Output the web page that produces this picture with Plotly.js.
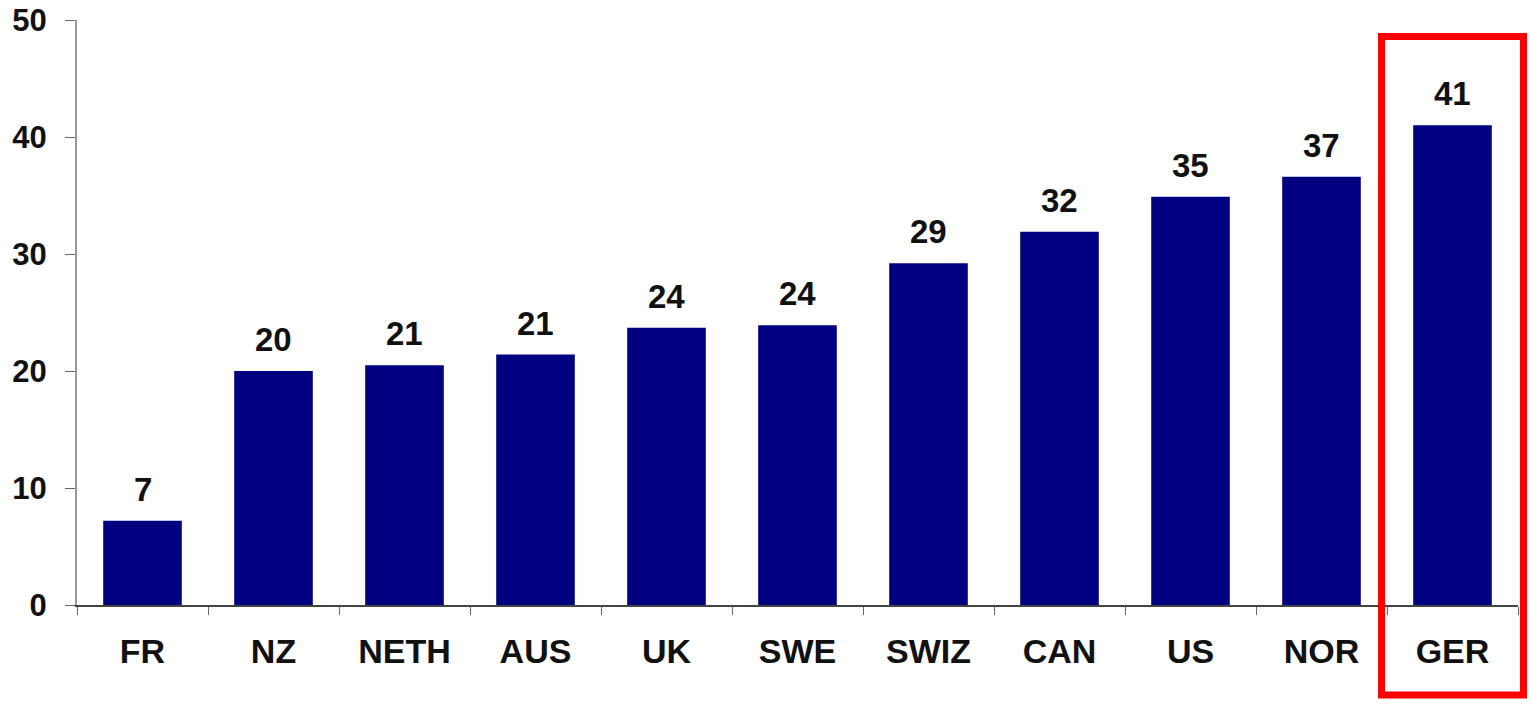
<!DOCTYPE html>
<html>
<head>
<meta charset="utf-8">
<script src="https://cdn.plot.ly/plotly-3.0.1.min.js"></script>
<style>html,body{margin:0;padding:0;background:#fff;}#chart{width:1531px;height:705px;}</style>
</head>
<body>
<div id="chart"></div>
<script>
var countries = ["FR", "NZ", "NETH", "AUS", "UK", "SWE", "SWIZ", "CAN", "US", "NOR", "GER"];
var values = [7.2, 20.0, 20.5, 21.4, 23.7, 23.9, 29.2, 31.9, 34.9, 36.6, 41.0];
var valueLabels = ["7", "20", "21", "21", "24", "24", "29", "32", "35", "37", "41"];
var yTicks = [0, 10, 20, 30, 40, 50];

var fontFamily = "Liberation Sans, Arial, sans-serif";

var trace = {
  type: "bar",
  x: countries,
  y: values,
  marker: {color: "#000080", line: {width: 0}},
  hoverinfo: "x+y"
};

var labelAnnotations = countries.map(function (c, i) {
  return {
    x: c,
    y: values[i],
    xref: "x",
    yref: "y",
    text: "<b>" + valueLabels[i] + "</b>",
    showarrow: false,
    yanchor: "bottom",
    xanchor: "center",
    yshift: 11,
    font: {family: fontFamily, size: 33, color: "#111"}
  };
});

var layout = {
  width: 1531,
  height: 705,
  margin: {l: 77, r: 13, t: 20, b: 100},
  paper_bgcolor: "#fff",
  plot_bgcolor: "#fff",
  showlegend: false,
  bargap: 0.4,
  font: {family: fontFamily, color: "#111"},
  xaxis: {
    type: "category",
    showgrid: false,
    showline: true,
    linecolor: "#444",
    linewidth: 2,
    ticks: "outside",
    tickson: "boundaries",
    ticklen: 8,
    tickcolor: "#666",
    tickwidth: 1,
    ticklabelstandoff: 15,
    tickfont: {family: fontFamily, size: 34, color: "#111", weight: "bold"},
    zeroline: false
  },
  yaxis: {
    range: [0, 50],
    tickvals: yTicks,
    ticktext: yTicks.map(String),
    showgrid: false,
    zeroline: false,
    showline: true,
    linecolor: "#999",
    linewidth: 2,
    ticks: "outside",
    ticklen: 10,
    tickcolor: "#666",
    tickwidth: 1,
    ticklabelstandoff: 12,
    tickfont: {family: fontFamily, size: 31, color: "#111", weight: "bold"}
  },
  annotations: labelAnnotations,
  shapes: [{
    type: "rect",
    xref: "paper",
    yref: "paper",
    x0: 0.9053,
    x1: 1.0038,
    y0: -0.1538,
    y1: 0.9718,
    line: {color: "#ff0000", width: 7},
    fillcolor: "rgba(0,0,0,0)"
  }]
};

Plotly.newPlot("chart", [trace], layout, {displayModeBar: false, staticPlot: true});
</script>
</body>
</html>
